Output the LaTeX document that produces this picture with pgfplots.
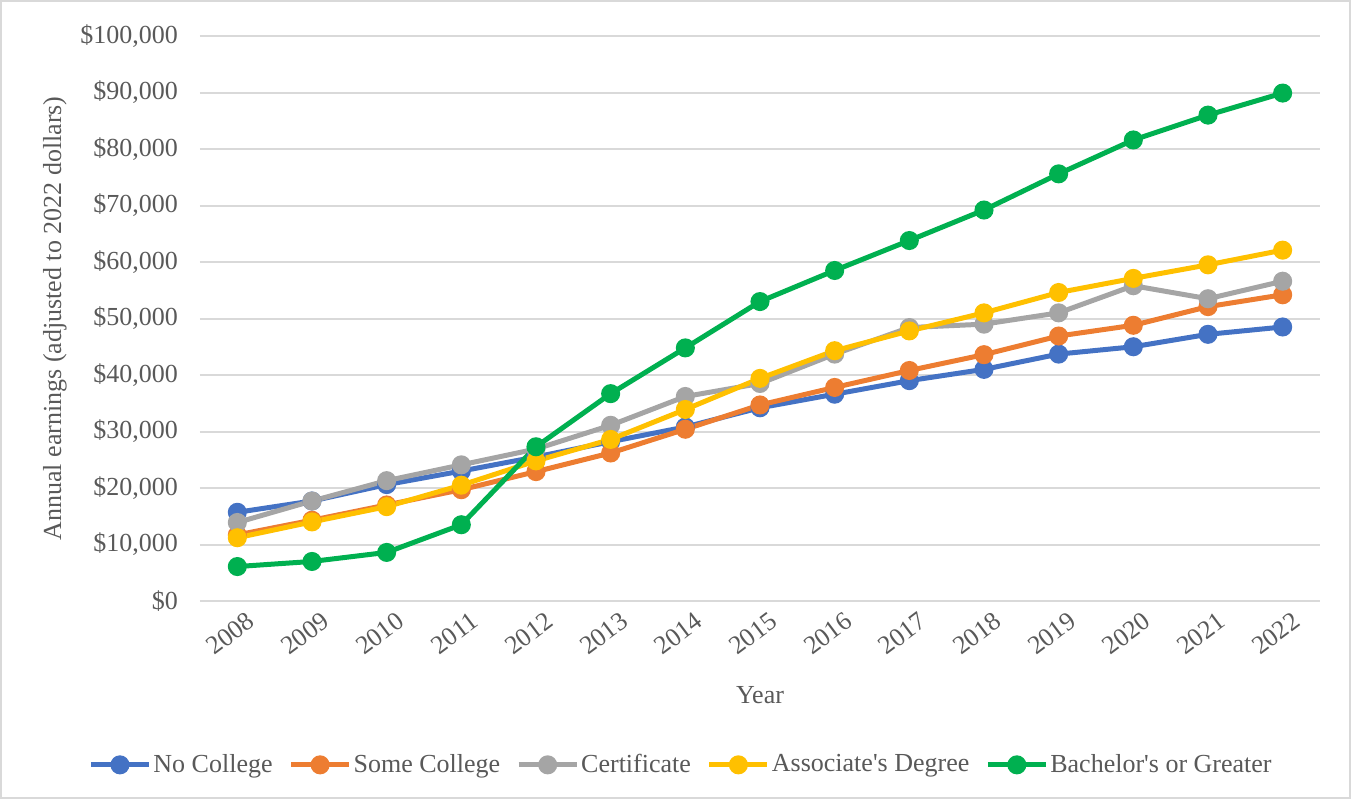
\documentclass[border=0pt]{standalone}
\usepackage{pgfplots}
\pgfplotsset{compat=1.18}
\usepackage{fontspec}
\setmainfont{Liberation Serif}
\definecolor{cBlue}{HTML}{4472C4}
\definecolor{cOrange}{HTML}{ED7D31}
\definecolor{cGray}{HTML}{A5A5A5}
\definecolor{cYellow}{HTML}{FFC000}
\definecolor{cGreen}{HTML}{00B050}
\definecolor{txt}{HTML}{595959}
\definecolor{gridc}{HTML}{D9D9D9}
\begin{document}
\begin{tikzpicture}
\begin{axis}[
  scale only axis,
  width=560pt, height=282.5pt,
  xmin=2007.5, xmax=2022.5,
  ymin=0, ymax=100000,
  scaled y ticks=false,
  axis line style={draw=none},
  major tick length=0pt,
  ymajorgrids,
  grid style={gridc, line width=1pt},
  ytick={0,10000,20000,30000,40000,50000,60000,70000,80000,90000,100000},
  yticklabels={{\$0},{\$10,000},{\$20,000},{\$30,000},{\$40,000},{\$50,000},{\$60,000},{\$70,000},{\$80,000},{\$90,000},{\$100,000}},
  xtick={2008,2009,2010,2011,2012,2013,2014,2015,2016,2017,2018,2019,2020,2021,2022},
  xticklabels={2008,2009,2010,2011,2012,2013,2014,2015,2016,2017,2018,2019,2020,2021,2022},
  tick label style={font=\fontsize{13}{15}\selectfont, text=txt},
  yticklabel style={xshift=-7.5pt},
  xticklabel style={rotate=37, anchor=north east, yshift=-3pt, xshift=4pt},
  xlabel={Year},
  ylabel={Annual earnings (adjusted to 2022 dollars)},
  label style={font=\fontsize{13}{15}\selectfont, text=txt},
  xlabel style={at={(axis description cs:0.5,-0.166)}, anchor=center},
  ylabel style={at={(axis description cs:-0.1295,0.5)}, anchor=center, rotate=0},
  legend columns=5,
  legend style={at={(axis description cs:0.4295,-0.29)}, anchor=center, draw=none,
    font=\fontsize{13}{15}\selectfont, text=txt, column sep=0pt,
    nodes={inner sep=1pt},
    /tikz/every even column/.append style={column sep=7pt}},
  legend image code/.code={\draw[mark repeat=2,mark phase=2] plot coordinates {(0pt,0pt) (14.5pt,0pt) (29pt,0pt)};},
  every axis plot/.append style={line width=2.5pt, mark=*, mark size=3.5pt, mark options={solid}},
]
\addplot[cBlue, mark options={fill=cBlue, draw=cBlue}] coordinates {
(2008,15700)(2009,17700)(2010,20600)(2011,23000)(2012,25500)(2013,28200)(2014,30800)(2015,34200)(2016,36600)(2017,39000)(2018,41000)(2019,43700)(2020,45000)(2021,47200)(2022,48500)};
\addlegendentry{No College}
\addplot[cOrange, mark options={fill=cOrange, draw=cOrange}] coordinates {
(2008,11700)(2009,14300)(2010,17000)(2011,19700)(2012,22900)(2013,26200)(2014,30400)(2015,34700)(2016,37800)(2017,40800)(2018,43600)(2019,46900)(2020,48800)(2021,52100)(2022,54200)};
\addlegendentry{Some College}
\addplot[cGray, mark options={fill=cGray, draw=cGray}] coordinates {
(2008,13900)(2009,17700)(2010,21300)(2011,24100)(2012,26900)(2013,31100)(2014,36200)(2015,38500)(2016,43700)(2017,48400)(2018,49000)(2019,51000)(2020,55800)(2021,53500)(2022,56600)};
\addlegendentry{Certificate}
\addplot[cYellow, mark options={fill=cYellow, draw=cYellow}] coordinates {
(2008,11200)(2009,14000)(2010,16700)(2011,20500)(2012,24800)(2013,28600)(2014,33900)(2015,39400)(2016,44300)(2017,47800)(2018,51000)(2019,54600)(2020,57100)(2021,59500)(2022,62100)};
\addlegendentry{Associate\textquotesingle s Degree}
\addplot[cGreen, mark options={fill=cGreen, draw=cGreen}] coordinates {
(2008,6100)(2009,7000)(2010,8600)(2011,13500)(2012,27300)(2013,36700)(2014,44800)(2015,53000)(2016,58500)(2017,63800)(2018,69200)(2019,75600)(2020,81600)(2021,86000)(2022,89900)};
\addlegendentry{Bachelor\textquotesingle s or Greater}
\end{axis}
\draw[gridc, line width=1pt, shift={(current axis.south west)}] (-99.5pt,-98.5pt) rectangle (575pt,300pt);
\end{tikzpicture}
\end{document}
